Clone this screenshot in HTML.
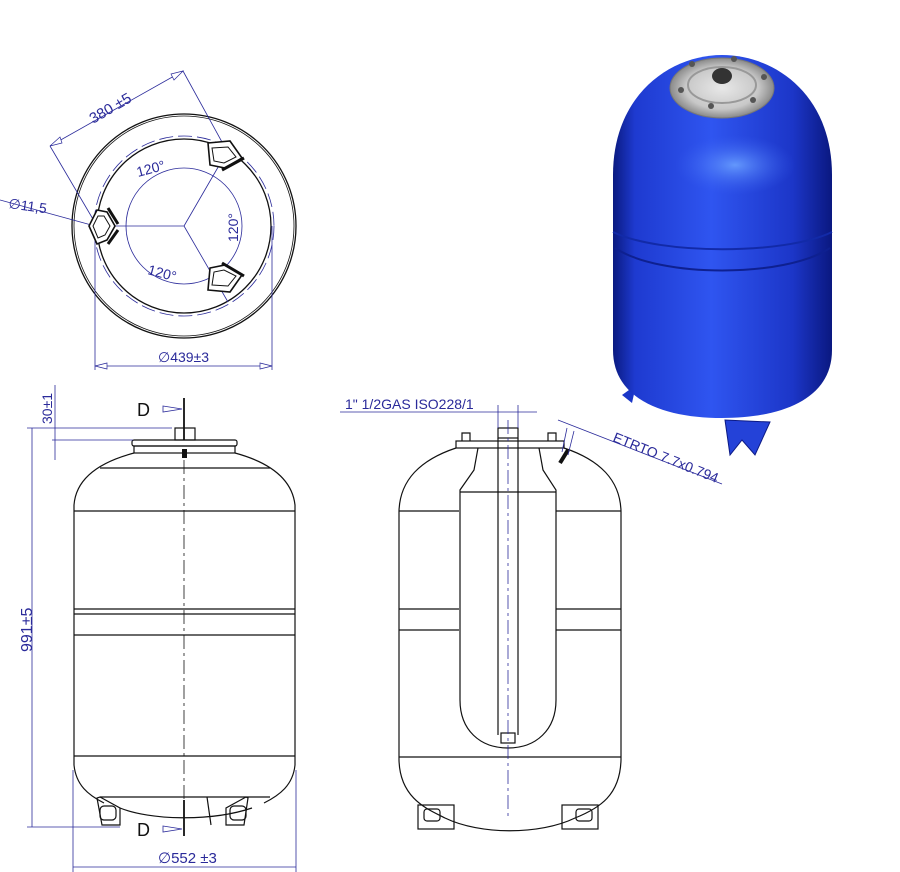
<!DOCTYPE html>
<html><head><meta charset="utf-8"><style>
html,body{margin:0;padding:0;background:#fff;width:900px;height:872px;overflow:hidden}
svg{display:block}
text{font-family:"Liberation Sans",sans-serif;fill:#2a2a9a}
</style></head><body>
<svg width="900" height="872" viewBox="0 0 900 872" xmlns="http://www.w3.org/2000/svg">
<defs>
<linearGradient id="bg" x1="0" x2="1" y1="0" y2="0">
<stop offset="0" stop-color="#0a1a80"/><stop offset="0.1" stop-color="#1e3ad0"/><stop offset="0.45" stop-color="#2f55f0"/><stop offset="0.82" stop-color="#1c36c8"/><stop offset="1" stop-color="#0a1880"/>
</linearGradient>
<radialGradient id="hl" cx="0.5" cy="0.5" r="0.5"><stop offset="0" stop-color="#6aa0ff" stop-opacity="0.9"/><stop offset="1" stop-color="#3a60f0" stop-opacity="0"/></radialGradient>
<radialGradient id="fl" cx="0.5" cy="0.5" r="0.5"><stop offset="0" stop-color="#e8e8e8"/><stop offset="0.7" stop-color="#c8c8c8"/><stop offset="1" stop-color="#8a8a8a"/></radialGradient>
</defs>

<!-- ===== TOP VIEW ===== -->
<g fill="none" stroke="#111" stroke-width="1.3">
<circle cx="184" cy="226" r="112"/>
<circle cx="184" cy="226" r="110" stroke-width="0.8"/>
<circle cx="184" cy="226" r="87"/>
</g>
<g fill="none" stroke="#2a2a9a" stroke-width="0.8">
<circle cx="184" cy="226" r="90" stroke-dasharray="14 5"/>
<circle cx="184" cy="226" r="58"/>
<line x1="184" y1="226" x2="97" y2="226"/>
<line x1="184" y1="226" x2="228" y2="150"/>
<line x1="184" y1="226" x2="228" y2="302"/>
<line x1="50" y1="146" x2="183" y2="71"/>
<line x1="183" y1="71" x2="228" y2="153"/>
<line x1="50" y1="146" x2="97" y2="226"/>
<line x1="95" y1="232" x2="95" y2="370"/>
<line x1="272" y1="226" x2="272" y2="370"/>
<line x1="95" y1="366" x2="272" y2="366"/>
<line x1="0" y1="200" x2="95" y2="226"/>
</g>
<g fill="#fff" stroke="#2a2a9a" stroke-width="0.7">
<polygon points="95,366 107,363 107,369"/><polygon points="272,366 260,363 260,369"/>
<polygon points="50,146 60,137 62,143"/><polygon points="183,71 171,74 174,80"/>
</g>
<g fill="#fff" stroke="#111" stroke-width="1.6">
<path d="M208,143 L230,141 L242,158 L225,168 L210,165 Z"/>
<path d="M212,148 L228,147 L236,157 L224,163 L214,161 Z" stroke-width="1"/>
<path d="M208,290 L230,292 L242,275 L225,265 L210,268 Z"/>
<path d="M212,285 L228,286 L236,276 L224,270 L214,272 Z" stroke-width="1"/>
<path d="M97,210 L89,226 L97,244 L107,240 L115,226 L107,212 Z"/>
<path d="M98,216 L93,226 L98,238 L105,235 L110,226 L104,216 Z" stroke-width="1"/>
</g>
<g stroke="#111" stroke-width="3"><line x1="222" y1="170" x2="244" y2="158"/><line x1="222" y1="263" x2="244" y2="276"/><line x1="108" y1="208" x2="118" y2="224"/><line x1="108" y1="244" x2="118" y2="230"/></g>
<text x="93" y="124" font-size="15" transform="rotate(-30 93 124)">380 ±5</text>
<text x="138" y="177" font-size="14" transform="rotate(-15 138 177)">120°</text>
<text x="147" y="274" font-size="14" transform="rotate(15 147 274)">120°</text>
<text x="238" y="242" font-size="14" transform="rotate(-90 238 242)">120°</text>
<text x="8" y="208" font-size="14" transform="rotate(8 8 208)">∅11,5</text>
<text x="158" y="362" font-size="14">∅439±3</text>

<!-- ===== FRONT VIEW ===== -->
<g fill="none" stroke="#111" stroke-width="1.2">
<rect x="132" y="440" width="105" height="6" rx="2"/>
<rect x="134" y="446" width="101" height="7"/>
<rect x="175" y="428" width="20" height="12"/>
<path d="M134,453 C100,462 76,478 74,505 L74,765 C76,785 88,795 104,803"/>
<path d="M235,453 C268,462 292,478 295,505 L295,765 C293,785 280,795 264,803"/>
<path d="M120,808 C150,820 210,822 252,808"/>
<line x1="100" y1="468" x2="270" y2="468"/>
<line x1="74" y1="511" x2="295" y2="511"/>
<line x1="74" y1="609" x2="295" y2="609"/>
<line x1="74" y1="614" x2="295" y2="614"/>
<line x1="74" y1="635" x2="295" y2="635"/>
<line x1="74" y1="756" x2="295" y2="756"/>
<line x1="100" y1="797" x2="270" y2="797"/>
<path d="M97,798 L102,825 L120,825 L120,808 L100,797Z"/>
<path d="M248,798 L244,825 L226,825 L226,808 L246,797Z"/>
<rect x="100" y="806" width="16" height="14" rx="4"/>
<rect x="230" y="806" width="16" height="14" rx="4"/>
<line x1="207" y1="797" x2="211" y2="825"/>
</g>
<rect x="182" y="449" width="5" height="9" fill="#111"/>
<line x1="184" y1="398" x2="184" y2="440" stroke="#111" stroke-width="1.8"/>
<line x1="184" y1="800" x2="184" y2="836" stroke="#111" stroke-width="1.8"/>
<line x1="184" y1="460" x2="184" y2="800" stroke="#111" stroke-width="0.8" stroke-dasharray="14 4 3 4"/>
<g fill="#fff" stroke="#2a2a9a" stroke-width="0.8">
<polygon points="163,406 182,409 163,412"/><polygon points="163,826 182,829 163,832"/>
</g>
<text x="137" y="416" font-size="18" style="fill:#111">D</text>
<text x="137" y="836" font-size="18" style="fill:#111">D</text>
<g stroke="#2a2a9a" stroke-width="0.8" fill="none">
<line x1="27" y1="428" x2="172" y2="428"/>
<line x1="52" y1="440" x2="133" y2="440"/>
<line x1="27" y1="827" x2="120" y2="827"/>
<line x1="32" y1="428" x2="32" y2="827"/>
<line x1="55" y1="385" x2="55" y2="460"/>
<line x1="73" y1="770" x2="73" y2="872"/>
<line x1="296" y1="770" x2="296" y2="872"/>
<line x1="73" y1="867" x2="296" y2="867"/>
</g>
<text x="32" y="652" font-size="16" transform="rotate(-90 32 652)">991±5</text>
<text x="52" y="424" font-size="14" transform="rotate(-90 52 424)">30±1</text>
<text x="158" y="863" font-size="15">∅552 ±3</text>

<!-- ===== SECTION VIEW ===== -->
<g fill="none" stroke="#111" stroke-width="1.2">
<path d="M456,448 C420,460 400,480 399,511 L399,760 C400,800 430,810 445,818 C480,835 540,835 575,818 C600,808 620,795 621,760 L621,511 C620,480 600,460 564,448"/>
<rect x="456" y="441" width="108" height="7"/>
<line x1="399" y1="511" x2="459" y2="511"/><line x1="556" y1="511" x2="621" y2="511"/>
<line x1="399" y1="609" x2="459" y2="609"/><line x1="556" y1="609" x2="621" y2="609"/>
<line x1="399" y1="630" x2="459" y2="630"/><line x1="556" y1="630" x2="621" y2="630"/>
<line x1="399" y1="757" x2="621" y2="757"/>
<path d="M478,448 L474,470 L460,490 L460,700 C460,730 480,748 508,748 C536,748 556,730 556,700 L556,490 L543,470 L539,448"/>
<line x1="460" y1="492" x2="556" y2="492"/>
<rect x="498" y="428" width="20" height="10"/>
<line x1="498" y1="438" x2="498" y2="735"/><line x1="518" y1="438" x2="518" y2="735"/>
<rect x="501" y="733" width="14" height="10"/>
<rect x="418" y="805" width="36" height="24"/><rect x="424" y="809" width="16" height="12" rx="3"/>
<rect x="562" y="805" width="36" height="24"/><rect x="576" y="809" width="16" height="12" rx="3"/>
<path d="M462,441 L462,433 L470,433 L470,441 M548,441 L548,433 L556,433 L556,441"/>
</g>
<path d="M560,463 L568,450" stroke="#111" stroke-width="4"/>
<g stroke="#2a2a9a" stroke-width="0.8" fill="none">
<line x1="508" y1="420" x2="508" y2="820" stroke-dasharray="14 4 3 4"/>
<line x1="340" y1="412" x2="537" y2="412"/>
<line x1="498" y1="405" x2="498" y2="428"/><line x1="518" y1="405" x2="518" y2="428"/>
<line x1="558" y1="420" x2="722" y2="484"/>
<line x1="567" y1="428" x2="562" y2="452"/><line x1="574" y1="431" x2="568" y2="455"/>
</g>
<text x="345" y="409" font-size="14">1" 1/2GAS ISO228/1</text>
<text x="612" y="441" font-size="14" transform="rotate(22 612 441)">ETRTO 7.7x0.794</text>

<!-- ===== 3D TANK ===== -->
<path d="M632,403 L622,395 L636,385Z" fill="#1a36c8"/>
<path d="M725,420 L730,455 L742,440 L755,455 L770,422Z" fill="#2442d8" stroke="#0c1a85" stroke-width="1"/>
<path d="M613,175 C613,95 670,55 722,55 C775,55 832,95 832,175 L832,350 C832,400 780,418 722,418 C665,418 613,400 613,350 Z" fill="url(#bg)"/>
<ellipse cx="735" cy="165" rx="60" ry="30" fill="url(#hl)"/>
<path d="M613,232 C660,255 785,255 832,232" fill="none" stroke="#122aa8" stroke-width="2"/>
<path d="M615,248 C660,278 785,278 830,248" fill="none" stroke="#0e2090" stroke-width="2"/>
<ellipse cx="722" cy="88" rx="52" ry="30" fill="url(#fl)" stroke="#777"/>
<ellipse cx="722" cy="85" rx="34" ry="18" fill="none" stroke="#999" stroke-width="2"/>
<ellipse cx="722" cy="76" rx="10" ry="8" fill="#333"/>
<g fill="#555"><circle cx="692" cy="64" r="3"/><circle cx="734" cy="59" r="3"/><circle cx="764" cy="77" r="3"/><circle cx="753" cy="100" r="3"/><circle cx="711" cy="106" r="3"/><circle cx="681" cy="90" r="3"/></g>
</svg>
</body></html>
